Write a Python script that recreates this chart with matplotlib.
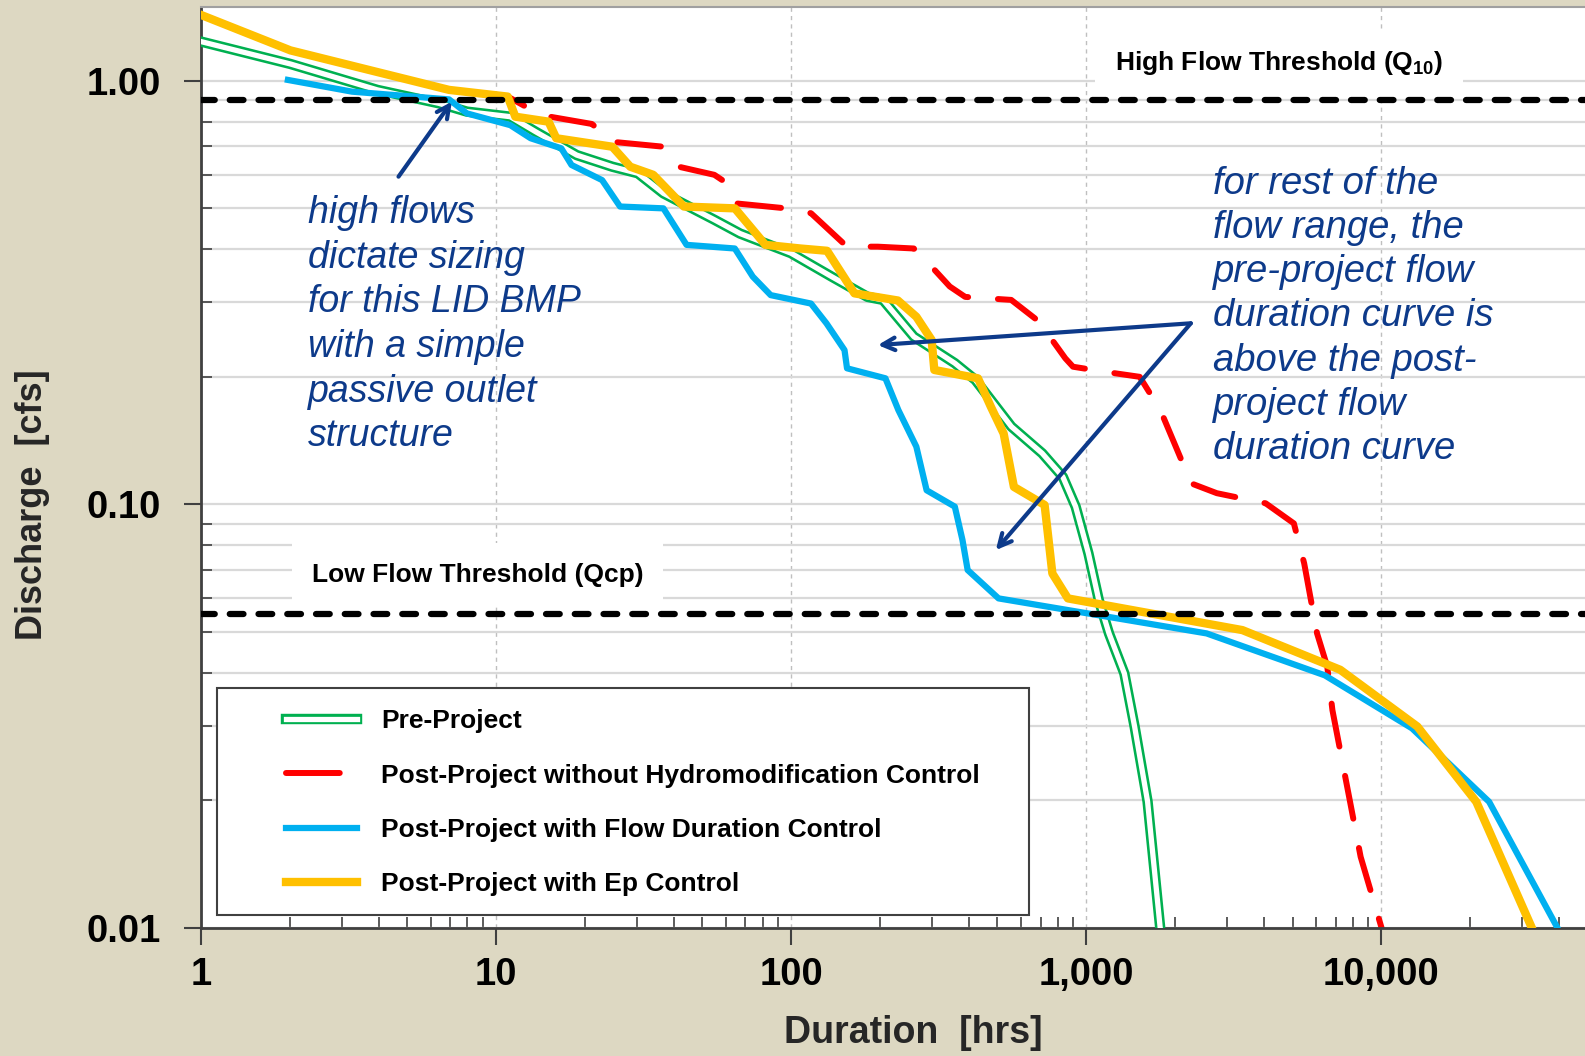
import matplotlib
matplotlib.use('Agg')
import matplotlib.pyplot as plt
import matplotlib.patheffects as pe
from matplotlib.ticker import FixedLocator, FixedFormatter, LogLocator, NullFormatter
from matplotlib.patches import Rectangle
from matplotlib.lines import Line2D

# ---------------- data ----------------
x_ticks = [1, 10, 100, 1000, 10000]
x_tick_labels = ["1", "10", "100", "1,000", "10,000"]
y_ticks = [0.01, 0.1, 1.0]
y_tick_labels = ["0.01", "0.10", "1.00"]

pre_x = [1.0, 2.01, 3.96, 6.40, 7.96, 11.17, 13.63, 18.75, 24.77, 30.25, 36.9, 54.9, 67.1,
         99.8, 137.1, 181.5, 204.7, 260.3, 358.5, 421.2, 557.2, 709.2, 832.6, 920.4, 1017,
         1103, 1194, 1346, 1458, 1613, 1783]
pre_y = [1.238, 1.096, 0.952, 0.885, 0.846, 0.823, 0.758, 0.668, 0.627, 0.605, 0.5425, 0.470,
         0.436, 0.392, 0.345, 0.309, 0.304, 0.249, 0.2155, 0.1967, 0.1527, 0.132, 0.1162,
         0.0988, 0.0766, 0.0594, 0.0496, 0.0399, 0.0299, 0.0199, 0.0099]

post_x = [1.0, 2.01, 6.93, 10.95, 14.19, 21.13, 24.77, 36.9, 41.6, 54.9, 59.5, 64.4, 96.0,
          116.7, 154.6, 196.5, 260.3, 281.8, 344.6, 388.7, 556.6, 681, 738, 849, 901.6, 1147,
          1517, 1783, 2268, 2769, 4055, 5052, 5475, 6054, 6556, 6824, 8505, 10060]
post_y = [1.431, 1.18, 0.952, 0.918, 0.830, 0.791, 0.718, 0.699, 0.627, 0.600, 0.578, 0.514,
          0.50, 0.487, 0.406, 0.406, 0.402, 0.381, 0.327, 0.309, 0.304, 0.2725, 0.2535, 0.2213,
          0.2114, 0.2058, 0.2001, 0.167, 0.1121, 0.1063, 0.1006, 0.0902, 0.0726, 0.0496,
          0.0414, 0.0327, 0.01473, 0.0099]

fdc_x = [1.97, 3.25, 6.93, 7.96, 11.17, 13.09, 16.63, 18.01, 22.87, 26.3, 36.9, 44.2, 64.4,
         74.1, 85.2, 116.7, 131.7, 151.6, 154.6, 208.6, 230.8, 265.5, 287.7, 358.5, 380.6,
         396.3, 504.3, 2557, 6427, 12700, 23180, 39840]
fdc_y = [1.005, 0.943, 0.904, 0.838, 0.786, 0.732, 0.693, 0.633, 0.583, 0.505, 0.50, 0.41,
         0.402, 0.345, 0.312, 0.298, 0.2676, 0.2314, 0.2096, 0.1985, 0.167, 0.1369, 0.108,
         0.0988, 0.0824, 0.070, 0.060, 0.0496, 0.0395, 0.0296, 0.01986, 0.0099]

ep_x = [1.0, 2.01, 6.93, 10.95, 11.62, 15.06, 15.99, 24.77, 28.49, 34.08, 43.28, 64.44, 81.8,
        107.4, 132.3, 163.8, 229.9, 265.5, 299.2, 305.5, 429.5, 475.0, 524.8, 568.6, 722.4,
        767.5, 866.3, 3381, 7254, 13240, 20970, 32570]
ep_y = [1.431, 1.18, 0.952, 0.918, 0.823, 0.801, 0.732, 0.699, 0.627, 0.600, 0.505, 0.500,
        0.410, 0.402, 0.397, 0.315, 0.303, 0.2774, 0.2445, 0.2077, 0.1985, 0.170, 0.147, 0.110,
        0.0997, 0.0687, 0.060, 0.0505, 0.0407, 0.0299, 0.01986, 0.0099]

series_labels = ["Pre-Project",
                 "Post-Project without Hydromodification Control",
                 "Post-Project with Flow Duration Control",
                 "Post-Project with Ep Control"]

high_threshold = 0.90
low_threshold = 0.055
high_label = "High Flow Threshold (Q$_{10}$)"
low_label = "Low Flow Threshold (Qcp)"

note_left = "high flows\ndictate sizing\nfor this LID BMP\nwith a simple\npassive outlet\nstructure"
note_right = ("for rest of the\nflow range, the\npre-project flow\nduration curve is\n"
              "above the post-\nproject flow\nduration curve")

arrow1_tail, arrow1_head = (4.67, 0.594), (7.08, 0.893)
arrow_tail = (2261, 0.2677)
arrow2_head = (196.6, 0.2378)
arrow3_head = (493.6, 0.078)

# ---------------- style ----------------
FONT = 'Liberation Sans'
plt.rcParams['font.family'] = [FONT, 'DejaVu Sans']
plt.rcParams['mathtext.fontset'] = 'custom'
plt.rcParams['mathtext.rm'] = FONT + ':bold'
plt.rcParams['mathtext.it'] = FONT + ':bold'
plt.rcParams['mathtext.default'] = 'rm'

BG = '#DDD8C2'
GREEN = '#00B050'
RED = '#FF0000'
BLUE = '#00B0F0'
ORANGE = '#FFC000'
NAVY = '#0D3A8A'

W, H = 1585, 1056
fig = plt.figure(figsize=(W / 100, H / 100), dpi=100, facecolor=BG)
L, R, T, B = 201, 1585, 7, 928
ax = fig.add_axes([L / W, 1 - B / H, (R - L) / W, (B - T) / H])
ax.set_facecolor('white')
ax.set_xscale('log')
ax.set_yscale('log')
ax.set_xlim(1, 48980)
ax.set_ylim(0.01, 1.494)

# ticks
ax.xaxis.set_major_locator(FixedLocator(x_ticks))
ax.xaxis.set_major_formatter(FixedFormatter(x_tick_labels))
ax.yaxis.set_major_locator(FixedLocator(y_ticks))
ax.yaxis.set_major_formatter(FixedFormatter(y_tick_labels))
ax.xaxis.set_minor_locator(LogLocator(base=10, subs=range(2, 10), numticks=20))
ax.yaxis.set_minor_locator(LogLocator(base=10, subs=range(2, 10), numticks=20))
ax.xaxis.set_minor_formatter(NullFormatter())
ax.yaxis.set_minor_formatter(NullFormatter())
ax.tick_params(which='major', direction='out', length=12, width=1.5, color='#404040')
ax.tick_params(which='minor', direction='in', length=8, width=1.2, color='#404040')
ax.tick_params(axis='y', which='major', pad=17)
ax.tick_params(axis='x', which='major', pad=9)
for lab in ax.get_xticklabels() + ax.get_yticklabels():
    lab.set_fontweight('bold')
    lab.set_fontsize(27.5)

# grid
ax.yaxis.grid(True, which='both', color='#D9D9D9', lw=1.6, ls='-', zorder=0)
ax.xaxis.grid(True, which='major', color='#BFBFBF', lw=1.0, ls=(0, (3, 3)), zorder=0)
ax.set_axisbelow(True)

for s in ['left', 'bottom']:
    ax.spines[s].set_color('#404040')
    ax.spines[s].set_linewidth(2)
ax.spines['top'].set_color('#A0A0A0')
ax.spines['top'].set_linewidth(1.5)
ax.spines['right'].set_visible(False)

# curves
green_fx = [pe.Stroke(linewidth=7.5, foreground=GREEN), pe.Normal()]
ax.plot(post_x, post_y, color=RED, lw=4.3, ls=(0, (7.3, 5.0)), dash_capstyle='round',
        solid_joinstyle='round', zorder=2)
ax.plot(pre_x, pre_y, color='white', lw=3.8, zorder=3, path_effects=green_fx)
ax.plot(fdc_x, fdc_y, color=BLUE, lw=4.5, solid_joinstyle='round', zorder=4)
ax.plot(ep_x, ep_y, color=ORANGE, lw=6.0, solid_joinstyle='round', zorder=5)

# thresholds
for yv in (high_threshold, low_threshold):
    ax.axhline(yv, color='black', lw=4.5, ls=(0, (2.2, 2.4)), dash_capstyle='round', zorder=6)

ax.text(0.7787, 0.9395, high_label, transform=ax.transAxes, ha='center', va='center',
        fontsize=19, fontweight='bold', zorder=1.5,
        bbox=dict(boxstyle='square,pad=0.75', facecolor='white', edgecolor='none'))
ax.text(0.200, 0.3832, low_label, transform=ax.transAxes, ha='center', va='center',
        fontsize=19, fontweight='bold', zorder=1.5,
        bbox=dict(boxstyle='square,pad=0.75', facecolor='white', edgecolor='none'))

# notes
ax.text(0.0775, 0.655, note_left, transform=ax.transAxes, ha='left', va='center',
        fontsize=27, style='italic', color=NAVY, linespacing=1.31, zorder=7)
ax.text(0.731, 0.664, note_right, transform=ax.transAxes, ha='left', va='center',
        fontsize=27.5, style='italic', color=NAVY, linespacing=1.29, zorder=7)

aprops = dict(arrowstyle='->,head_length=0.9,head_width=0.45', color=NAVY, lw=3,
              shrinkA=0, shrinkB=0)
ax.annotate('', xy=arrow1_head, xytext=arrow1_tail, arrowprops=aprops, zorder=8)
ax.annotate('', xy=arrow2_head, xytext=arrow_tail, arrowprops=aprops, zorder=8)
ax.annotate('', xy=arrow3_head, xytext=arrow_tail, arrowprops=aprops, zorder=8)

# legend
ax.add_patch(Rectangle((0.0116, 0.0141), 0.587, 0.2465, transform=ax.transAxes,
                       facecolor='white', edgecolor='#404040', lw=1.5, zorder=9))
handles = [
    Line2D([], [], color='white', lw=3.8, path_effects=green_fx),
    Line2D([], [], color=RED, lw=4.3, ls=(0, (9.0, 10.0)), dash_capstyle='round'),
    Line2D([], [], color=BLUE, lw=4.5),
    Line2D([], [], color=ORANGE, lw=6.0),
]
leg = ax.legend(handles, series_labels, loc='upper left',
                bbox_to_anchor=(0.0614, 0.2375), frameon=False, borderpad=0, borderaxespad=0,
                handlelength=2.7, handletextpad=0.9, labelspacing=1.15,
                prop=dict(weight='bold', size=19))
leg.set_zorder(10)

# axis labels
fig.text(33 / W, 1 - 505 / H, "Discharge  [cfs]", rotation=90, ha='center', va='center',
         fontsize=26, fontweight='bold', color='#262626')
fig.text(913 / W, 1 - 1033 / H, "Duration  [hrs]", ha='center', va='center',
         fontsize=27, fontweight='bold', color='#262626')

fig.savefig('out.png', dpi=100, facecolor=BG)
